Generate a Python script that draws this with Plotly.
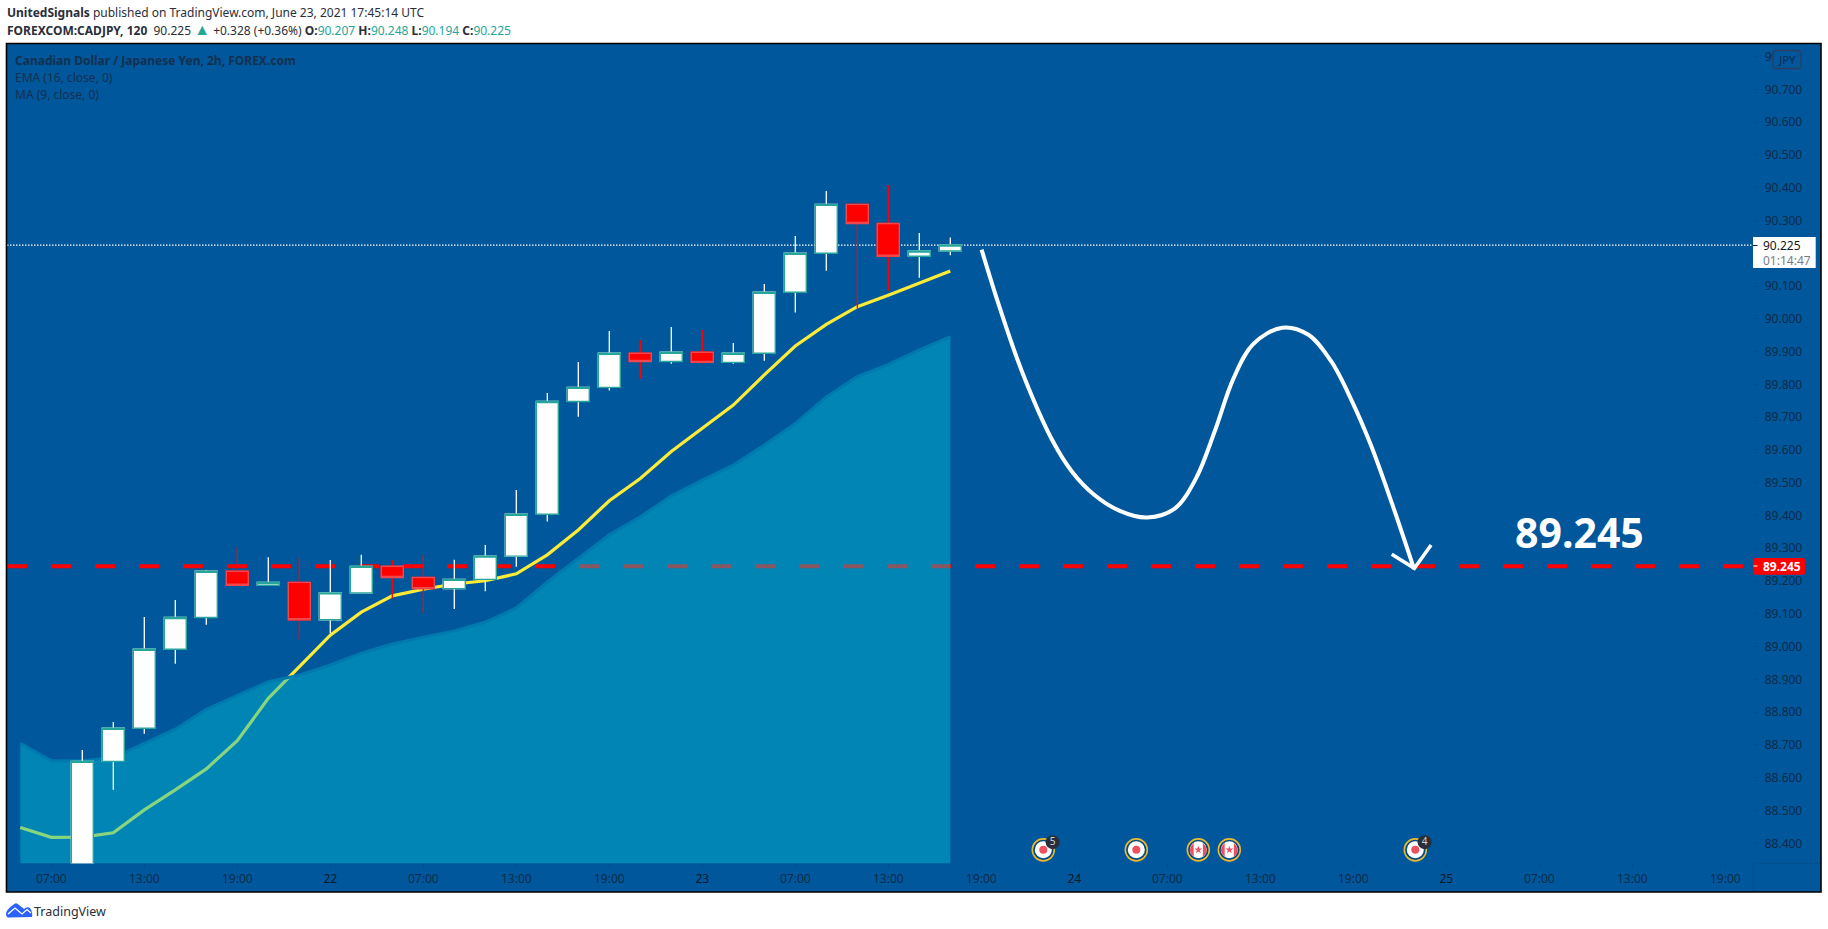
import plotly.graph_objects as go

W, H = 1828, 929
# ---------- data ----------
candle_idx = list(range(29))
opens  = [88.30, 88.650, 88.751, 88.992, 89.089, 89.230, 89.187, 89.196, 89.082, 89.164,
          89.245, 89.211, 89.177, 89.205, 89.276, 89.404, 89.748, 89.791, 89.895, 89.870,
          89.898, 89.867, 89.895, 90.081, 90.200, 90.349, 90.291, 90.191, 90.207]
highs  = [88.685, 88.770, 89.090, 89.142, 89.234, 89.303, 89.273, 89.270, 89.264, 89.280,
          89.264, 89.280, 89.265, 89.310, 89.478, 89.774, 89.868, 89.963, 89.935, 89.975,
          89.966, 89.926, 90.106, 90.253, 90.390, 90.357, 90.408, 90.262, 90.248]
lows   = [88.25, 88.563, 88.734, 88.948, 89.067, 89.187, 89.187, 89.022, 89.041, 89.164,
          89.147, 89.102, 89.115, 89.169, 89.244, 89.382, 89.701, 89.781, 89.817, 89.863,
          89.864, 89.863, 89.872, 90.019, 90.147, 90.032, 90.086, 90.125, 90.194]
closes = [88.650, 88.751, 88.992, 89.089, 89.230, 89.187, 89.196, 89.082, 89.164, 89.245,
          89.211, 89.177, 89.205, 89.276, 89.404, 89.748, 89.791, 89.895, 89.870, 89.898,
          89.867, 89.895, 90.081, 90.200, 90.349, 90.291, 90.191, 90.207, 90.225]

line_idx = list(range(-2, 29))
ma_9 = [88.448, 88.418, 88.419, 88.432, 88.502, 88.563, 88.627, 88.713, 88.842, 88.939,
        89.035, 89.105, 89.155, 89.175, 89.191, 89.201, 89.222, 89.280, 89.356, 89.445,
        89.513, 89.595, 89.666, 89.737, 89.829, 89.917, 89.983, 90.037, 90.072, 90.110, 90.146]
ema_16 = [88.705, 88.652, 88.652, 88.662, 88.705, 88.748, 88.809, 88.852, 88.893, 88.913,
          88.944, 88.980, 89.008, 89.029, 89.048, 89.075, 89.118, 89.197, 89.270, 89.341,
          89.396, 89.460, 89.508, 89.554, 89.615, 89.681, 89.762, 89.824, 89.861, 89.905, 89.946]

path_idx = [29.01, 29.57, 30.33, 31.30, 31.94, 32.62, 33.45, 34.35, 35.25, 35.93, 36.53, 37.13,
            37.77, 38.71, 39.54, 40.29, 40.97, 41.57, 42.25, 42.96]
path_px = [90.211, 90.041, 89.835, 89.628, 89.532, 89.465, 89.415, 89.394, 89.422, 89.514,
           89.657, 89.817, 89.923, 89.973, 89.952, 89.870, 89.746, 89.614, 89.436, 89.237]
head_idx = [42.24, 42.97, 43.51]
head_px = [89.282, 89.239, 89.310]

target_price = 89.245
last_price = 90.225

price_ticks = [88.4, 88.5, 88.6, 88.7, 88.8, 88.9, 89.0, 89.1, 89.2, 89.3, 89.4, 89.5, 89.6, 89.7,
               89.8, 89.9, 90.0, 90.1, 90.3, 90.4, 90.5, 90.6, 90.7, 90.8]
tick_idx = [-1, 2, 5, 8, 11, 14, 17, 20, 23, 26, 29, 32, 35, 38, 41, 44, 47, 50, 53]
tick_txt = ["07:00", "13:00", "19:00", "22", "07:00", "13:00", "19:00", "23", "07:00", "13:00",
            "19:00", "24", "07:00", "13:00", "19:00", "25", "07:00", "13:00", "19:00"]

plain_events = [31, 34, 43]
flag_events = [36, 37]
event_badges = {31: "5", 43: "4"}
event_level = 88.38

BG = "#00579b"
AX = "#0c2b49"
UP_EDGE = "#26a69a"
DN_EDGE = "#f0474f"
FONT = "Noto Sans"

# pane geometry (pixels)
L, R, T, B = 7, 1753.3, 44, 863.3
x0 = (L - 82.3) / 31
x1 = (R - 82.3) / 31
y0 = 88.4 + (843.3 - B) / 327.8
y1 = 88.4 + (843.3 - T) / 327.8
fx = lambda p: p / W
fy = lambda p: 1 - p / H

fig = go.Figure()

ends = [x0, x1]
fig.add_trace(go.Scatter(x=ends, y=[last_price] * 2, mode="lines", zorder=0,
                         line=dict(color="white", width=1.3, dash="1.5px,1.5px"), hoverinfo="skip"))
fig.add_trace(go.Scatter(x=ends, y=[target_price] * 2, mode="lines", zorder=0,
                         line=dict(color="#ff0000", width=4, dash="20px,24px"), hoverinfo="skip"))
fig.add_trace(go.Scatter(x=line_idx, y=ma_9, mode="lines", zorder=1, name="MA (9, close, 0)",
                         line=dict(color="#fdeb37", width=3.2)))
fig.add_trace(go.Scatter(x=line_idx, y=ema_16, mode="lines", zorder=2, name="EMA (16, close, 0)",
                         fill="tozeroy", fillcolor="rgba(0,188,212,0.46)",
                         line=dict(color="#0079ae", width=3)))

# wicks + fills
fig.add_trace(go.Candlestick(x=candle_idx, open=opens, high=highs, low=lows, close=closes, zorder=3,
                             increasing=dict(line=dict(color="white", width=1.3), fillcolor="white"),
                             decreasing=dict(line=dict(color="#ff0000", width=1.3), fillcolor="#ff0000"),
                             name="CADJPY"))
# body outlines
body_hi = [max(a, b) for a, b in zip(opens, closes)]
body_lo = [min(a, b) for a, b in zip(opens, closes)]
fig.add_trace(go.Candlestick(x=candle_idx, open=opens, high=body_hi, low=body_lo, close=closes, zorder=3,
                             increasing=dict(line=dict(color=UP_EDGE, width=1.4), fillcolor="white"),
                             decreasing=dict(line=dict(color=DN_EDGE, width=1.4), fillcolor="#ff0000"),
                             hoverinfo="skip"))

# hand-drawn forecast path
fig.add_trace(go.Scatter(x=path_idx, y=path_px, mode="lines", zorder=4,
                         line=dict(color="white", width=4, shape="spline", smoothing=1), hoverinfo="skip"))
fig.add_trace(go.Scatter(x=head_idx, y=head_px, mode="lines", zorder=4,
                         line=dict(color="white", width=3.5), hoverinfo="skip"))

# event markers
all_events = plain_events + flag_events
n = len(all_events)
fig.add_trace(go.Scatter(x=all_events, y=[event_level] * n, mode="markers", zorder=4, hoverinfo="skip",
                         marker=dict(size=22, color="#004a85", line=dict(color="#e9b92f", width=1.6))))
fig.add_trace(go.Scatter(x=all_events, y=[event_level] * n, mode="markers", zorder=4, hoverinfo="skip",
                         marker=dict(size=17, color="white")))
fig.add_trace(go.Scatter(x=plain_events, y=[event_level] * len(plain_events), mode="markers", zorder=4,
                         hoverinfo="skip", marker=dict(size=8, color="#ef5060")))
fig.add_trace(go.Scatter(x=flag_events, y=[event_level] * len(flag_events), mode="markers", zorder=4,
                         hoverinfo="skip", marker=dict(size=6, symbol="star", color="#ef5060")))
fig.add_trace(go.Scatter(x=[k + 0.3 for k in event_badges], y=[event_level + 0.0235] * len(event_badges),
                         text=list(event_badges.values()), mode="markers+text", zorder=5, hoverinfo="skip",
                         textposition="middle center", textfont=dict(color="#d1d4dc", size=10, family=FONT),
                         marker=dict(size=14, color="#2a2e39")))

def rrect(a, b, c, d, r=2):
    return (f"M {fx(a+r)},{fy(b)} L {fx(c-r)},{fy(b)} Q {fx(c)},{fy(b)} {fx(c)},{fy(b+r)} "
            f"L {fx(c)},{fy(d-r)} Q {fx(c)},{fy(d)} {fx(c-r)},{fy(d)} L {fx(a+r)},{fy(d)} "
            f"Q {fx(a)},{fy(d)} {fx(a)},{fy(d-r)} L {fx(a)},{fy(b+r)} Q {fx(a)},{fy(b)} {fx(a+r)},{fy(b)} Z")

shapes = [
    dict(type="rect", xref="paper", yref="paper", x0=fx(6.5), x1=fx(1821), y0=fy(892), y1=fy(43.5),
         fillcolor=BG, line=dict(width=0), layer="below"),
    dict(type="line", xref="paper", yref="paper", x0=fx(R), x1=fx(1821), y0=fy(B), y1=fy(B),
         line=dict(color="#004f8e", width=1), layer="below"),
    dict(type="line", xref="paper", yref="paper", x0=fx(R), x1=fx(R), y0=fy(B), y1=fy(892),
         line=dict(color="#004f8e", width=1), layer="below"),
    dict(type="rect", xref="paper", yref="paper", x0=fx(6.5), x1=fx(1821), y0=fy(892), y1=fy(43.5),
         fillcolor="rgba(0,0,0,0)", line=dict(color="black", width=1.6), layer="above"),
    # JPY badge
    dict(type="path", xref="paper", yref="paper", path=rrect(1773, 50.5, 1801, 68.5, 3),
         fillcolor=BG, line=dict(color="#2b3f60", width=1.3), layer="above"),
    # price tags
    dict(type="path", xref="paper", yref="paper", path=rrect(1753.5, 558, 1805, 574.7, 2),
         fillcolor="#ff0000", line=dict(width=0), layer="above"),
    dict(type="line", xref="paper", yref="paper", x0=fx(1753.5), x1=fx(1757.5), y0=fy(566), y1=fy(566),
         line=dict(color="white", width=1), layer="above"),
    dict(type="rect", xref="paper", yref="paper", x0=fx(1753), x1=fx(1815.7), y0=fy(268), y1=fy(237),
         fillcolor="white", line=dict(width=0), layer="above"),
    dict(type="line", xref="paper", yref="paper", x0=fx(1753), x1=fx(1757.5), y0=fy(245.5), y1=fy(245.5),
         line=dict(color="#131722", width=1), layer="above"),
    # logo
    dict(type="path", xref="paper", yref="paper",
         path=(f"M {fx(6)},{fy(913)} Q {fx(8)},{fy(908)} {fx(13)},{fy(905)} Q {fx(16)},{fy(901.5)} {fx(19)},{fy(905)} "
               f"L {fx(24)},{fy(909)} Q {fx(27)},{fy(906)} {fx(30)},{fy(908)} Q {fx(33)},{fy(912)} {fx(32)},{fy(917)} "
               f"L {fx(8)},{fy(917.5)} Q {fx(6)},{fy(917)} {fx(6)},{fy(913)} Z"),
         fillcolor="#2962ff", line=dict(width=0), layer="above"),
    dict(type="path", xref="paper", yref="paper",
         path=f"M {fx(8)},{fy(914)} L {fx(15)},{fy(908)} L {fx(22)},{fy(914)} L {fx(27)},{fy(909.5)} L {fx(31)},{fy(913)}",
         fillcolor="rgba(0,0,0,0)", line=dict(color="white", width=1.3), layer="above"),
]
# red stripes of the Canadian flag icons
for k in flag_events:
    for s in (-1, 1):
        shapes.append(dict(type="path", xref="x", yref="y", xsizemode="pixel", ysizemode="pixel",
                           xanchor=k, yanchor=event_level,
                           path=f"M {s*4.6},-7.2 L {s*4.6},7.2 Q {s*12.4},0 {s*4.6},-7.2 Z",
                           fillcolor="#ef5060", line=dict(width=0), layer="above"))

def txt(x, y, s, size=12, color="#2a2e39", anchor="left"):
    return dict(xref="paper", yref="paper", x=fx(x), y=fy(y), text=s, showarrow=False,
                xanchor=anchor, yanchor="middle", align="left", borderpad=0, borderwidth=0,
                font=dict(family=FONT, size=size, color=color))

TEAL = "#26a69a"
def val(s):
    return f'<span style="color:{TEAL}">{s}</span>'

line2 = (f"<b>FOREXCOM:CADJPY, 120</b>\u00a0\u00a090.225 "
         f'<span style="color:{TEAL};font-size:16px">▲</span> +0.328 (+0.36%) '
         f"<b>O:</b>{val('90.207')} <b>H:</b>{val('90.248')} <b>L:</b>{val('90.194')} <b>C:</b>{val('90.225')}")

annotations = [
    txt(6.7, 13, "<b>UnitedSignals</b> published on TradingView.com, June 23, 2021 17:45:14 UTC", 12),
    txt(6.7, 29.5, line2, 12),
    txt(15, 60.5, "<b>Canadian Dollar / Japanese Yen, 2h, FOREX.com</b>", 12, "#14304f"),
    txt(15, 77.5, "EMA (16, close, 0)", 12, "#14304f"),
    txt(15, 94.5, "MA (9, close, 0)", 12, "#14304f"),
    txt(1778, 59.5, "JPY", 11.5, AX),
    txt(1763, 566, "<b>89.245</b>", 12, "white"),
    txt(1763, 245.5, "90.225", 12, "#131722"),
    txt(1763, 260.5, "01:14:47", 12, "#787b86"),
    txt(34, 911, "TradingView", 12.5, "#2a2e39"),
    dict(x=48.3, y=89.35, xref="x", yref="y", text="<b>89.245</b>", showarrow=False,
         font=dict(family=FONT, size=41, color="white")),
]

ticktext = [f'<span style="color:#08192c">{t}</span>' if ":" not in t else t for t in tick_txt]

fig.update_layout(
    width=W, height=H, margin=dict(l=0, r=0, t=0, b=0, autoexpand=False),
    paper_bgcolor="white", plot_bgcolor=BG, showlegend=False, boxgap=0.29, boxgroupgap=0,
    shapes=shapes, annotations=annotations, hovermode=False,
    xaxis=dict(domain=[fx(L), fx(R)], range=[x0, x1], rangeslider=dict(visible=False),
               tickmode="array", tickvals=tick_idx, ticktext=ticktext, showgrid=False, zeroline=False,
               showline=True, linecolor="#004f8e", linewidth=1, ticks="outside", ticklen=4,
               tickcolor="#004f8e", tickangle=0, tickfont=dict(family=FONT, size=12, color=AX)),
    yaxis=dict(domain=[fy(B), fy(T)], range=[y0, y1], side="right", tickmode="array", tickvals=price_ticks,
               tickformat=".3f", showgrid=False, zeroline=False, showline=True, linecolor="#004f8e",
               linewidth=1, ticks="outside", ticklen=5, tickcolor="#004f8e",
               tickfont=dict(family=FONT, size=12, color=AX), ticklabelstandoff=3),
)

fig.write_html("out.html", config=dict(displayModeBar=False),
               post_script="document.body.style.margin='0';")
